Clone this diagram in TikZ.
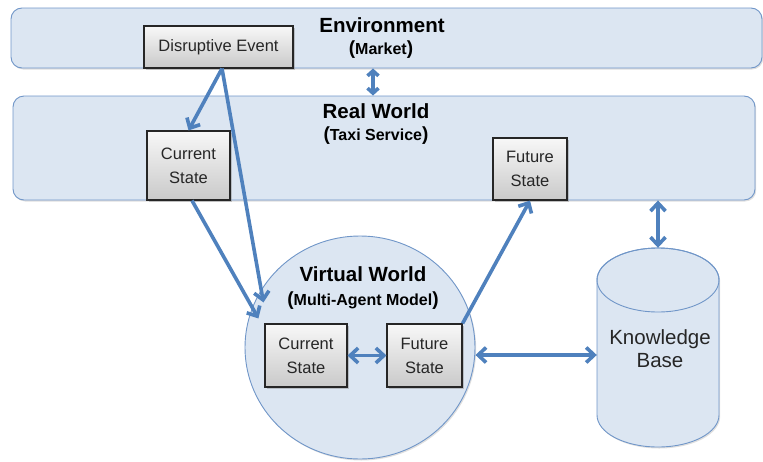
\documentclass[tikz,border=0pt]{standalone}
\usepackage{fontspec}
\setmainfont{Liberation Sans}
\usetikzlibrary{arrows.meta,shapes.geometric,shadows,calc}
\definecolor{cfill}{HTML}{DCE6F2}
\definecolor{cline}{HTML}{7096C8}
\definecolor{arrc}{HTML}{4F81BD}
\definecolor{boxline}{HTML}{262626}
\newcommand{\bigp}[1]{{\fontsize{19}{19}\selectfont #1}}
\begin{document}
\begin{tikzpicture}[x=1pt,y=1pt,
 container/.style={draw=cline, line width=0.9pt, fill=cfill, rounded corners=11pt,
   drop shadow={shadow xshift=1.2pt,shadow yshift=-1.5pt,opacity=0.25}},
 statebox/.style={draw=boxline, line width=1.1pt, top color=gray!6, bottom color=gray!42,
   align=center, inner sep=0pt, font=\fontsize{16.5}{24}\selectfont, text=black!85,
   drop shadow={shadow xshift=1.5pt,shadow yshift=-1.5pt,opacity=0.4}},
 arr/.style={draw=arrc, line width=3.6pt, -{Straight Barb[length=8pt,width=15pt]}},
 darr/.style={draw=arrc, line width=3.6pt, {Straight Barb[length=8pt,width=15pt]}-{Straight Barb[length=8pt,width=15pt]}},
 sarr/.style={draw=arrc, line width=3.6pt, {Straight Barb[length=5pt,width=11pt]}-{Straight Barb[length=5pt,width=11pt]}},
 title/.style={font=\bfseries\fontsize{20.5}{21}\selectfont},
 subtitle/.style={font=\bfseries\fontsize{16}{17}\selectfont}]
\useasboundingbox (0,0) rectangle (763,-461);
% containers
\node[container, minimum width=751pt, minimum height=60pt] (env) at (386.5,-38) {};
\node[container, minimum width=742pt, minimum height=104pt] (real) at (384,-148) {};
\node[container, ellipse, rounded corners=0pt, minimum width=230pt, minimum height=223pt] (vw) at (360,-347.5) {};
% knowledge base cylinder
\path[container, rounded corners=0pt] (597,-280) -- (597,-415)
  arc[start angle=180,end angle=360,x radius=61pt,y radius=32pt] -- (719,-280)
  arc[start angle=0,end angle=180,x radius=61pt,y radius=32pt] -- cycle;
\draw[draw=cline, line width=0.9pt] (658,-280) ellipse [x radius=61pt, y radius=32pt];
\node[minimum width=122pt, minimum height=199pt, inner sep=0pt] (kb) at (658,-347.5) {};
\node[align=center, font=\fontsize{20.5}{23}\selectfont, text=black!85] (kbt) at (660,-349) {Knowledge\\Base};
% titles
\node[title] (envt) at (382,-25) {Environment};
\node[subtitle] (envs) at (381,-50) {\bigp(Market\bigp)};
\node[title] (realt) at (376,-111) {Real World};
\node[subtitle] (reals) at (376,-136) {\bigp(Taxi Service\bigp)};
\node[title] (vwt) at (363,-274) {Virtual World};
\node[subtitle] (vws) at (363,-301) {\bigp(Multi-Agent Model\bigp)};
% state boxes
\node[statebox, minimum width=149pt, minimum height=42pt] (de) at (218.5,-47) {Disruptive Event};
\node[statebox, minimum width=83pt, minimum height=69pt] (cs1) at (188.5,-165.5) {Current\\State};
\node[statebox, minimum width=74pt, minimum height=62pt] (fs1) at (530,-169) {Future\\State};
\node[statebox, minimum width=82pt, minimum height=63pt] (cs2) at (306,-355.5) {Current\\State};
\node[statebox, minimum width=75pt, minimum height=63pt] (fs2) at (424.5,-355.5) {Future\\State};
% connectors
\coordinate (emid) at (373,-80);
\draw[sarr] (emid |- env.south) -- (emid |- real.north);
\draw[arr] ([xshift=3.5pt]de.south) -- (cs1.north);
\draw[arr] ([xshift=3.5pt]de.south) -- ([shift={(-1pt,21pt)}]cs2.north west);
\draw[arr] ([xshift=3.5pt]cs1.south) -- ([shift={(-6pt,5pt)}]cs2.north west);
\draw[arr] (fs2.north east) -- (fs1.south);
\draw[darr] (cs2.east) -- (fs2.west);
\draw[darr] ([yshift=-7.5pt]vw.east) -- ([yshift=-7.5pt]kb.west);
\draw[darr] (kb.north |- real.south) -- (kb.north);
\end{tikzpicture}
\end{document}
